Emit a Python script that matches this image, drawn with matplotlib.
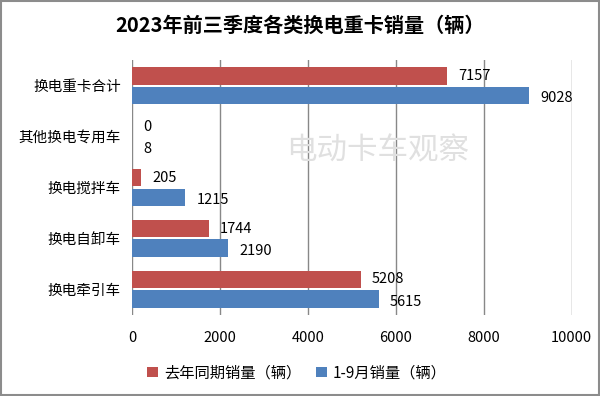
import matplotlib
matplotlib.use("Agg")
import matplotlib.pyplot as plt
import numpy as np

plt.rcParams['font.family'] = ['Noto Sans CJK SC', 'DejaVu Sans']

title = "2023年前三季度各类换电重卡销量（辆）"
categories = ["换电重卡合计", "其他换电专用车", "换电搅拌车", "换电自卸车", "换电牵引车"]
last_year = [7157, 0, 205, 1744, 5208]
this_year = [9028, 8, 1215, 2190, 5615]
series_names = ["去年同期销量（辆）", "1-9月销量（辆）"]
xticks = [0, 2000, 4000, 6000, 8000, 10000]

red = "#C0504D"
blue = "#4F81BD"

fig = plt.figure(figsize=(6, 3.96), dpi=100)
ax = fig.add_axes([0.22, 0.205, 0.733, 0.643])

n = len(categories)
y = np.arange(n)
h = 0.35
ax.barh(y - h/2 - 0.02, last_year, height=h, color=red, label=series_names[0], zorder=3)
ax.barh(y + h/2 + 0.02, this_year, height=h, color=blue, label=series_names[1], zorder=3)

for yi, v in zip(y, last_year):
    ax.text(v + 250, yi - h/2 - 0.02, str(v), va='center', ha='left', fontsize=10.5, color='black')
for yi, v in zip(y, this_year):
    ax.text(v + 250, yi + h/2 + 0.02 + 0.05, str(v), va='center', ha='left', fontsize=10.5, color='black')

ax.set_ylim(n - 0.5, -0.5)
ax.set_xlim(0, 10000)
ax.set_yticks(y)
ax.set_yticklabels(categories, fontsize=10.5)
ax.set_xticks(xticks)
ax.set_xticklabels([str(t) for t in xticks], fontsize=10.5)
ax.tick_params(axis='both', length=0, pad=8)
ax.tick_params(axis='x', pad=12)
ax.grid(axis='x', color='#888888', linewidth=1.0, zorder=0)
for s in ax.spines.values():
    s.set_visible(False)

fig.text(0.5, 0.935, title, ha='center', va='center', fontsize=14.5, fontweight='bold')
fig.text(0.63, 0.62, "电动卡车观察", ha='center', va='center', fontsize=22, color='#E0E0E0', zorder=0)

ax.legend(loc='upper center', bbox_to_anchor=(0.375, -0.14), ncol=2, frameon=False,
          fontsize=11, handlelength=0.7, handleheight=0.7, columnspacing=1.0, handletextpad=0.4)

fig.patches.append(plt.Rectangle((0.002, 0.003), 0.996, 0.994, transform=fig.transFigure,
                                 fill=False, edgecolor='#8C8C8C', linewidth=1.5))

fig.savefig("out.png", dpi=100, facecolor='white')
